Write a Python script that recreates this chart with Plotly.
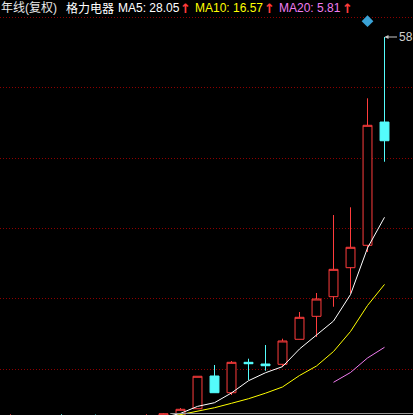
import plotly.graph_objects as go

# ---------------- data ----------------
years = list(range(1996, 2019))
open_ = [-9.5, -7.0, -6.8, -7.5, -8.0, -7.2, -8.1, -7.3, -6.6, -6.4, -6.1, -4.70,
         0.90, -1.96, 3.24, 2.95, 2.90, 7.18, 11.11, 14.47, 19.43, 23.26, 44.35]
high = [-5.65, -6.2, -6.3, -5.65, -6.4, -5.7, -6.5, -6.1, -5.65, -5.45, -4.58, 0.85,
        2.78, 3.46, 3.86, 6.20, 7.28, 11.85, 15.10, 28.44, 29.76, 48.41, 58.90]
low = [-10.2, -9.0, -8.5, -8.8, -9.0, -8.6, -9.2, -8.0, -7.6, -7.0, -6.6, -4.70,
       -1.96, -2.35, 0.21, 1.80, 2.49, 7.18, 7.57, 12.75, 15.05, 22.11, 37.56]
close = [-7.0, -6.8, -7.5, -8.0, -7.2, -8.1, -7.3, -6.6, -6.4, -5.55, -4.80, 0.85,
         -1.96, 3.24, 3.00, 2.66, 6.89, 10.94, 14.07, 19.15, 22.92, 43.79, 41.15]

ma5 = [None, None, None, None, -7.5, -7.4, -7.6, -7.4, -7.1, -6.2, -5.5, -4.3,
       -3.67, -2.0, 0.09, 1.46, 2.5, 5.52, 7.92, 10.3, 14.84, 22.8, 28.05]
ma10 = [None] * 9 + [-6.3, -5.75, -5.18, -4.53, -3.77, -2.99, -2.04, -0.98, 0.98,
                     2.61, 5.09, 8.51, 12.96, 16.57]
ma20 = [None] * 19 + [-0.18, 1.50, 3.98, 5.81]

mark_year = [2017]
mark_value = [61.6]

title_left = "年线(复权)"
stock_name = "格力电器"
max_label = "58"

# ---------------- style ----------------
RED = "#ff3c3c"
CYAN = "#54fcfc"
YELLOW = "#ffff00"
VIOLET = "#f07cf0"
GRID = "#8c0000"
W, H = 413, 415

fig = go.Figure()

fig.add_trace(go.Candlestick(
    x=years, open=open_, high=high, low=low, close=close,
    increasing=dict(line=dict(color=RED, width=1), fillcolor="#000000"),
    decreasing=dict(line=dict(color=CYAN, width=1), fillcolor=CYAN),
    whiskerwidth=0, showlegend=False, hoverinfo="skip",
))

fig.add_trace(go.Scatter(x=years, y=ma5, mode="lines",
                         line=dict(color="#ffffff", width=1), showlegend=False,
                         hoverinfo="skip"))
fig.add_trace(go.Scatter(x=years, y=ma10, mode="lines",
                         line=dict(color=YELLOW, width=1), showlegend=False,
                         hoverinfo="skip"))
fig.add_trace(go.Scatter(x=years, y=ma20, mode="lines",
                         line=dict(color=VIOLET, width=1), showlegend=False,
                         hoverinfo="skip"))

fig.add_trace(go.Scatter(x=mark_year, y=mark_value, mode="markers",
                         marker=dict(symbol="diamond", size=9, color="#3aa2d6"),
                         showlegend=False, hoverinfo="skip"))

# y scale: pixel 0 -> 65.23, pixel 415 -> -5.774
y_top, y_bot = 65.23, -5.774
grid_px = [17.3, 87.7, 158.1, 228.5, 298.9, 369.3]
grid_vals = [y_top - p / H * (y_top - y_bot) for p in grid_px]

fig.update_layout(
    width=W, height=H,
    margin=dict(l=0, r=0, t=0, b=0),
    paper_bgcolor="#000000", plot_bgcolor="#000000",
    boxgap=0.25,
    xaxis=dict(range=[1995.382, 2019.676], visible=False, fixedrange=True,
               rangeslider=dict(visible=False)),
    yaxis=dict(range=[y_bot, y_top], tickvals=grid_vals, showticklabels=False,
               showgrid=True, gridcolor=GRID, gridwidth=1, griddash="1px,2px",
               zeroline=False, showline=True, linecolor="#8c0000", linewidth=2,
               ticks="", fixedrange=True),
    font=dict(family="Arial, 'Liberation Sans', 'Noto Sans CJK SC'", size=12),
)

# bottom grey border (partial)
fig.add_shape(type="line", xref="x", yref="paper", x0=2005.4, x1=2019.676,
              y0=1.5 / H, y1=1.5 / H, line=dict(color="#9a9a9a", width=1))

# header texts
pieces = [
    (title_left, 0, "#e8e8e8"),
    (stock_name, 65, "#ffffff"),
    (f"MA5: {ma5[-1]:.2f}", 117, "#ffffff"),
    (f"MA10: {ma10[-1]:.2f}", 194, YELLOW),
    (f"MA20: {ma20[-1]:.2f}", 278, VIOLET),
]
for txt, px, col in pieces:
    fig.add_annotation(text=txt, xref="paper", yref="paper", x=px / W, y=1,
                       xanchor="left", yanchor="top", showarrow=False,
                       borderpad=0, font=dict(color=col, size=12))
for px in [178.5, 262.5, 340.5]:
    fig.add_annotation(text="<b>↑</b>", xref="paper", yref="paper", x=px / W,
                       y=1, xanchor="left", yanchor="top", showarrow=False,
                       borderpad=0,
                       font=dict(color=RED, size=13, family="DejaVu Sans"))

# max-price marker
fig.add_annotation(x=years[-1], y=high[-1], xref="x", yref="y", text="",
                   showarrow=True, ax=14, ay=0, arrowhead=2, arrowsize=0.8,
                   arrowwidth=1, arrowcolor="#c8c8c8", standoff=0)
fig.add_annotation(x=years[-1], y=high[-1], xref="x", yref="y",
                   text=max_label, showarrow=False, xanchor="left",
                   yanchor="middle", xshift=13, borderpad=0,
                   font=dict(color="#cfcfcf", size=12))

fig.write_html("out.html", config={"displayModeBar": False},
               post_script="document.body.style.margin='0px';")
